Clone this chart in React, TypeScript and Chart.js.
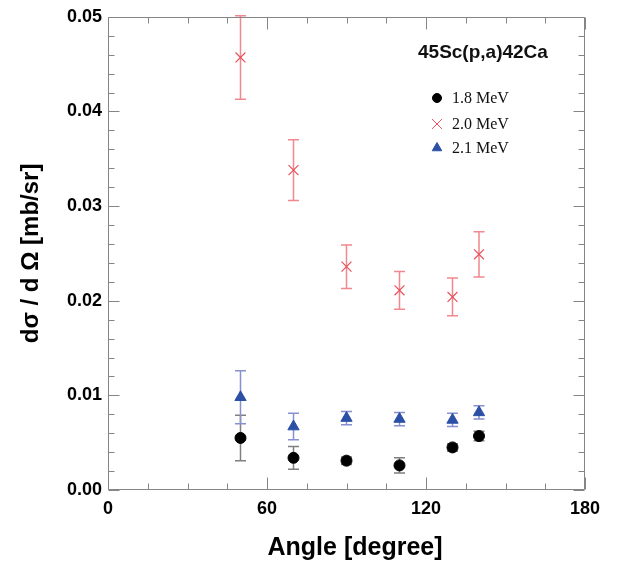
import React, { useEffect, useRef } from 'react';
import { Chart, registerables } from 'chart.js';
import { drawPoint } from 'chart.js/helpers';

Chart.register(...registerables);

// ---------- data ----------
const angles = [50, 70, 90, 110, 130, 140];

const mev18 = [0.0055, 0.0034, 0.0031, 0.0026, 0.0045, 0.0057];
const mev18Err = [0.0024, 0.0012, 0.0004, 0.0008, 0.0004, 0.0005];

const mev20 = [0.0457, 0.0338, 0.0236, 0.0211, 0.0204, 0.0249];
const mev20Err = [0.0044, 0.0032, 0.0023, 0.002, 0.002, 0.0024];

const mev21 = [0.0098, 0.0067, 0.0076, 0.0075, 0.0074, 0.0082];
const mev21Err = [0.0028, 0.0014, 0.0007, 0.0007, 0.0007, 0.0007];

const seriesLabels = ['1.8 MeV', '2.0 MeV', '2.1 MeV'];
const plotTitle = '45Sc(p,a)42Ca';
const xTitle = 'Angle [degree]';
const yTitle = 'd\u03C3 / d \u03A9 [mb/sr]';
const xMin = 0;
const xMax = 180;
const xMajorStep = 60;
const xMinorStep = 15;
const yMin = 0;
const yMax = 0.05;
const yMajorStep = 0.01;
const yMinorStep = 0.002;

const SANS = '"Liberation Sans", Arial, Helvetica, sans-serif';
const SERIF = '"Liberation Serif", "Times New Roman", serif';

const COLORS = {
  black: '#000000',
  blackErr: '#808080',
  red: '#e8505a',
  redErr: '#f0888e',
  blue: '#2b50a6',
  blueErr: '#8790d0',
  frame: '#858585',
};

const errorBarPlugin = {
  id: 'errorBars',
  beforeDatasetsDraw(chart: any) {
    const { ctx, scales } = chart;
    const xs = scales.x;
    const ys = scales.y;
    chart.data.datasets.forEach((ds: any) => {
      const errs: number[] = ds.errors || [];
      ds.data.forEach((p: any, i: number) => {
        const e = errs[i];
        if (!e) return;
        const x = xs.getPixelForValue(p.x);
        const yTop = ys.getPixelForValue(p.y + e);
        const yBot = ys.getPixelForValue(p.y - e);
        const cap = 5.5;
        ctx.save();
        ctx.strokeStyle = ds.errColor;
        ctx.lineWidth = 1.5;
        ctx.beginPath();
        ctx.moveTo(x, yTop);
        ctx.lineTo(x, yBot);
        ctx.moveTo(x - cap, yTop);
        ctx.lineTo(x + cap, yTop);
        ctx.moveTo(x - cap, yBot);
        ctx.lineTo(x + cap, yBot);
        ctx.stroke();
        ctx.restore();
      });
    });
  },
};

const framePlugin = {
  id: 'frameTicks',
  afterDraw(chart: any) {
    const { ctx, chartArea, scales } = chart;
    const { left, right, top, bottom } = chartArea;
    const xs = scales.x;
    const ys = scales.y;
    ctx.save();
    ctx.strokeStyle = COLORS.frame;
    ctx.lineWidth = 1;
    const L = Math.round(left) + 0.5;
    const R = Math.round(right) - 0.5;
    const T = Math.round(top) + 0.5;
    const B = Math.round(bottom) - 0.5;
    ctx.beginPath();
    ctx.rect(L, T, R - L, B - T);
    const nx = Math.round((xMax - xMin) / xMinorStep);
    for (let k = 0; k <= nx; k++) {
      const v = xMin + k * xMinorStep;
      const major = Math.abs(v / xMajorStep - Math.round(v / xMajorStep)) < 1e-6;
      const len = major ? 12 : 6;
      const x = Math.round(xs.getPixelForValue(v)) + 0.5;
      ctx.moveTo(x, B);
      ctx.lineTo(x, B - len);
      ctx.moveTo(x, T);
      ctx.lineTo(x, T + len);
    }
    const ny = Math.round((yMax - yMin) / yMinorStep);
    for (let k = 0; k <= ny; k++) {
      const v = yMin + k * yMinorStep;
      const major = k % Math.round(yMajorStep / yMinorStep) === 0;
      const len = major ? 11 : 6;
      const y = Math.round(ys.getPixelForValue(v)) + 0.5;
      ctx.moveTo(L, y);
      ctx.lineTo(L + len, y);
      ctx.moveTo(R, y);
      ctx.lineTo(R - len, y);
    }
    ctx.stroke();
    ctx.restore();

    // x axis title
    ctx.save();
    ctx.fillStyle = '#000';
    ctx.font = `bold 25px ${SANS}`;
    ctx.textAlign = 'center';
    ctx.textBaseline = 'middle';
    ctx.fillText(xTitle, 355, 548);
    ctx.restore();

    // annotation title
    ctx.save();
    ctx.fillStyle = '#111';
    ctx.font = `bold 19px ${SANS}`;
    ctx.textAlign = 'left';
    ctx.textBaseline = 'middle';
    ctx.fillText(plotTitle, 418, 53);
    ctx.restore();

    // legend
    const legendYs = [98, 124, 148];
    chart.data.datasets.forEach((ds: any, i: number) => {
      const y = legendYs[i];
      ctx.save();
      ctx.fillStyle = ds.backgroundColor;
      ctx.strokeStyle = ds.borderColor;
      ctx.lineWidth = 1;
      drawPoint(ctx, {
        pointStyle: ds.pointStyle,
        radius: ds.legendRadius,
        rotation: 0,
        borderWidth: 1,
      } as any, 437, y);
      ctx.restore();
      ctx.save();
      ctx.fillStyle = '#111';
      ctx.font = `16px ${SERIF}`;
      ctx.textAlign = 'left';
      ctx.textBaseline = 'middle';
      ctx.fillText(seriesLabels[i], 452, y + 1);
      ctx.restore();
    });
  },
};

export default function App() {
  const ref = useRef<HTMLCanvasElement | null>(null);

  useEffect(() => {
    if (!ref.current) return;
    const toPts = (ys: number[]) => angles.map((a, i) => ({ x: a, y: ys[i] }));
    const chart = new Chart(ref.current, {
      type: 'scatter',
      data: {
        datasets: [
          {
            label: seriesLabels[0],
            data: toPts(mev18),
            errors: mev18Err,
            errColor: COLORS.blackErr,
            pointStyle: 'circle',
            pointRadius: 5.5,
            pointHoverRadius: 5.5,
            legendRadius: 4.5,
            backgroundColor: COLORS.black,
            borderColor: COLORS.black,
            borderWidth: 1,
          },
          {
            label: seriesLabels[1],
            data: toPts(mev20),
            errors: mev20Err,
            errColor: COLORS.redErr,
            pointStyle: 'crossRot',
            pointRadius: 7,
            pointHoverRadius: 7,
            legendRadius: 7,
            backgroundColor: COLORS.red,
            borderColor: COLORS.red,
            borderWidth: 1.2,
          },
          {
            label: seriesLabels[2],
            data: toPts(mev21),
            errors: mev21Err,
            errColor: COLORS.blueErr,
            pointStyle: 'triangle',
            pointRadius: 6.5,
            pointHoverRadius: 6.5,
            legendRadius: 5.5,
            backgroundColor: COLORS.blue,
            borderColor: COLORS.blue,
            borderWidth: 1,
          },
        ] as any,
      },
      options: {
        responsive: false,
        animation: false,
        events: [],
        layout: { padding: { top: 14, right: 35, left: 0, bottom: 0 } },
        plugins: {
          legend: { display: false },
          tooltip: { enabled: false },
        },
        scales: {
          x: {
            type: 'linear',
            min: xMin,
            max: xMax,
            grid: { display: false, drawTicks: false },
            border: { display: false },
            afterFit: (s: any) => {
              s.height = 77;
            },
            ticks: {
              stepSize: xMajorStep,
              padding: 8,
              color: '#000',
              font: { family: SANS, size: 18, weight: 'bold' },
              callback: (v: any) => String(v),
            },
            title: { display: false },
          },
          y: {
            type: 'linear',
            min: yMin,
            max: yMax,
            grid: { display: false, drawTicks: false },
            border: { display: false },
            afterFit: (s: any) => {
              s.width = 108;
            },
            ticks: {
              stepSize: yMajorStep,
              padding: 6,
              color: '#000',
              font: { family: SANS, size: 18, weight: 'bold' },
              callback: (v: any) => Number(v).toFixed(2),
            },
            title: {
              display: true,
              text: yTitle,
              color: '#000',
              font: { family: SANS, size: 24, weight: 'bold' },
              padding: { top: 17, bottom: 0 },
            },
          },
        },
      } as any,
      plugins: [errorBarPlugin, framePlugin],
    });
    return () => chart.destroy();
  }, []);

  return (
    <div style={{ position: 'absolute', left: 0, top: 0, width: 620, height: 567, background: '#fff' }}>
      <canvas ref={ref} width={620} height={567} style={{ display: 'block' }} />
    </div>
  );
}
